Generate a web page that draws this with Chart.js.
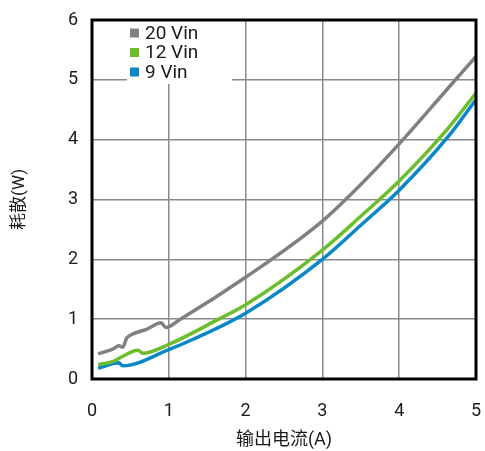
<!DOCTYPE html>
<html>
<head>
<meta charset="utf-8">
<script src="https://cdn.jsdelivr.net/npm/chart.js@4/dist/chart.umd.min.js"></script>
<style>
  html, body { margin: 0; padding: 0; background: #fff; }
  #wrap { width: 485px; height: 451px; }
</style>
</head>
<body>
<div id="wrap"><canvas id="lossChart"></canvas></div>
<script>
// Power loss vs output current, three input voltages

const seriesNames = ['20 Vin', '12 Vin', '9 Vin'];
const seriesColors = ['#808080', '#6cbd2c', '#0a87c7'];

// 20 Vin
const vin20Current = [0.08, 0.27, 0.35, 0.40, 0.45, 0.51, 0.71, 0.90, 0.96, 1.14, 2.0, 3.0, 3.5, 4.0, 4.65, 5.0];
const vin20Loss    = [0.42, 0.50, 0.555, 0.53, 0.68, 0.74, 0.83, 0.94, 0.86, 0.99, 1.70, 2.64, 3.25, 3.93, 4.88, 5.39];

// 12 Vin
const vin12Current = [0.08, 0.27, 0.40, 0.60, 0.66, 1.0, 1.65, 2.0, 3.0, 3.5, 4.0, 4.65, 5.0];
const vin12Loss    = [0.24, 0.29, 0.38, 0.48, 0.43, 0.58, 1.0, 1.24, 2.155, 2.72, 3.31, 4.21, 4.78];

// 9 Vin
const vin9Current = [0.08, 0.35, 0.40, 1.0, 1.31, 2.0, 3.0, 3.5, 4.0, 4.65, 5.0];
const vin9Loss    = [0.18, 0.27, 0.22, 0.49, 0.66, 1.10, 2.0, 2.57, 3.155, 4.07, 4.67];

const xTicks = [0, 1, 2, 3, 4, 5];
const yTicks = [0, 1, 2, 3, 4, 5, 6];

const allCurrents = [vin20Current, vin12Current, vin9Current];
const allLosses = [vin20Loss, vin12Loss, vin9Loss];

const FONT = "Roboto, 'Noto Sans CJK SC', sans-serif";

function toPoints(xs, ys) {
    return xs.map((x, i) => ({ x: x, y: ys[i] }));
}

const datasets = seriesNames.map((name, i) => ({
    label: name,
    data: toPoints(allCurrents[i], allLosses[i]),
    borderColor: seriesColors[i],
    backgroundColor: seriesColors[i],
    borderWidth: 3.5,
    pointRadius: 0,
    cubicInterpolationMode: 'monotone',
    fill: false
}));

// legend box sitting inside the plot, plus the heavy black frame
const framePlugin = {
    id: 'frameAndLegend',
    beforeDatasetsDraw(chart) {
        const ctx = chart.ctx;
        const area = chart.chartArea;
        ctx.save();
        ctx.fillStyle = '#fff';
        ctx.fillRect(area.left + 35, area.top, 105, 64);
        ctx.font = '19px ' + FONT;
        ctx.textBaseline = 'middle';
        chart.data.datasets.forEach((ds, i) => {
            const y = area.top + 13 + i * 19.5;
            ctx.fillStyle = ds.borderColor;
            ctx.fillRect(area.left + 38, y - 4.5, 9, 9);
            ctx.fillStyle = '#1a1a1a';
            ctx.fillText(ds.label, area.left + 53, y + 1);
        });
        ctx.restore();
    },
    afterDraw(chart) {
        const ctx = chart.ctx;
        const area = chart.chartArea;
        ctx.save();
        ctx.strokeStyle = '#000';
        ctx.lineWidth = 3;
        ctx.strokeRect(area.left, area.top, area.right - area.left, area.bottom - area.top);
        ctx.restore();
    }
};

new Chart(document.getElementById('lossChart').getContext('2d'), {
    type: 'line',
    data: { datasets: datasets },
    options: {
        responsive: true,
        maintainAspectRatio: false,
        animation: false,
        layout: { padding: { top: 20, right: 9, left: 0, bottom: 0 } },
        plugins: {
            legend: { display: false },
            tooltip: { enabled: false }
        },
        scales: {
            x: {
                type: 'linear',
                min: 0,
                max: 5,
                afterBuildTicks: (scale) => { scale.ticks = xTicks.map(v => ({ value: v })); },
                afterFit: (scale) => {
                    scale.height = 72;
                    scale.paddingLeft = 0;
                    scale.paddingRight = 0;
                },
                grid: { color: '#8a8a8a', lineWidth: 1.5, drawTicks: false },
                border: { display: false },
                ticks: { padding: 22, color: '#1a1a1a', font: { family: FONT, size: 18 } },
                title: {
                    display: true,
                    text: '输出电流(A)',
                    color: '#1a1a1a',
                    font: { family: FONT, size: 18 },
                    padding: { top: 0, bottom: 0 }
                }
            },
            y: {
                type: 'linear',
                min: 0,
                max: 6,
                afterBuildTicks: (scale) => { scale.ticks = yTicks.map(v => ({ value: v })); },
                afterFit: (scale) => {
                    scale.width = 92;
                    scale.paddingTop = 0;
                    scale.paddingBottom = 0;
                },
                grid: { color: '#8a8a8a', lineWidth: 1.5, drawTicks: false },
                border: { display: false },
                ticks: { padding: 14, color: '#1a1a1a', font: { family: FONT, size: 18 } },
                title: {
                    display: true,
                    text: '耗散(W)',
                    color: '#1a1a1a',
                    font: { family: FONT, size: 17 },
                    padding: { top: 10, bottom: 0 }
                }
            }
        }
    },
    plugins: [framePlugin]
});
</script>
</body>
</html>
